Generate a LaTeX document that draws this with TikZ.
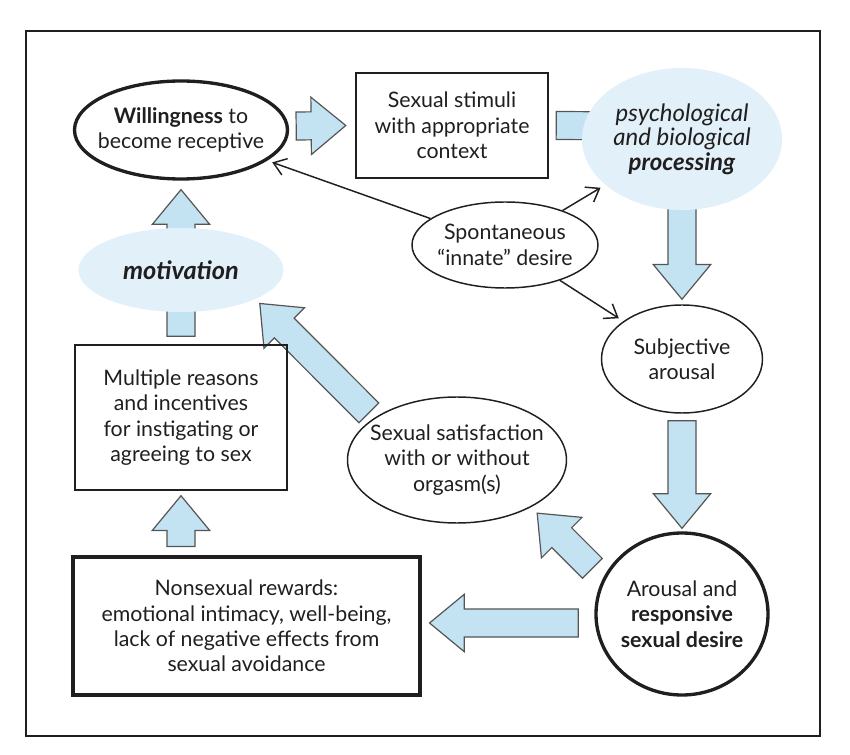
\documentclass[tikz,border=0pt]{standalone}
\usepackage{fontspec}
\setmainfont{Lato}
\usetikzlibrary{shapes.geometric,arrows.meta,calc,backgrounds}

\definecolor{arrowblue}{RGB}{196,227,242}
\definecolor{paleblue}{RGB}{226,240,249}
\definecolor{arrowline}{RGB}{85,85,85}
\definecolor{ink}{RGB}{32,30,30}

\tikzset{every picture/.style={line width=0.75pt}}

% block arrow, tail #1 to tip #2 (both named coordinates)
\newcommand{\fatarrow}[2]{%
  \coordinate (fhb) at ($(#2)!26pt!(#1)$);
  \draw[fatarrow] ($(#1)!10.5pt!90:(#2)$) -- ($(fhb)!10.5pt!90:(#2)$) -- ($(fhb)!21.5pt!90:(#2)$) -- (#2) -- ($(fhb)!21.5pt!-90:(#2)$) -- ($(fhb)!10.5pt!-90:(#2)$) -- ($(#1)!10.5pt!-90:(#2)$) -- cycle ;
}

\begin{document}
\begin{tikzpicture}[x=0.75pt,y=0.75pt,yscale=-1,xscale=1,
  every node/.style={text=ink, font={\fontsize{16}{19}\selectfont}},
  oval/.style={ellipse, draw=ink, line width=1.1pt, inner xsep=-15pt, inner ysep=0pt, align=center},
  boldoval/.style={oval, line width=2.5pt},
  paleoval/.style={ellipse, fill=paleblue, inner xsep=-15pt, inner ysep=0pt, align=center},
  card/.style={rectangle, draw=ink, line width=1.1pt, inner sep=0pt, align=center},
  fatarrow/.style={fill=arrowblue, draw=arrowline, line width=0.9pt, line join=miter},
  pointer/.style={draw=ink, line width=1.1pt, shorten >=4pt, -{Straight Barb[length=9pt,width=13pt]}}]
\useasboundingbox (0,0) rectangle (850,755);

%Shape: Ellipse [will]
\node[boldoval, minimum width=159.75pt, minimum height=73.5pt] (will) at (181,130) {\textbf{Willingness} to\\become receptive};
%Shape: Rectangle [stim]
\node[card, line width=1.8pt, minimum width=144pt, minimum height=78.75pt] (stim) at (452,125.5) {Sexual stimuli\\with appropriate\\context};
%Shape: Ellipse [psych]
\node[paleoval, minimum width=150pt, minimum height=106.5pt, font={\fontsize{18}{18.5}\selectfont}] (psych) at (682,139) {\textit{psychological}\\\textit{and biological}\\\textbf{\textit{processing}}};
%Shape: Ellipse [spont]
\node[oval, minimum width=139.5pt, minimum height=64.5pt] (spont) at (505,245) {Spontaneous\\“innate” desire};
%Shape: Ellipse [subj]
\node[oval, minimum width=120.75pt, minimum height=81pt] (subj) at (682,359) {Subjective\\arousal};
%Shape: Ellipse [arous]
\node[boldoval, minimum width=129pt, minimum height=121.5pt] (arous) at (682,614) {Arousal and\\\textbf{responsive}\\\textbf{sexual desire}};
%Shape: Ellipse [sat]
\node[oval, minimum width=164.25pt, minimum height=94.5pt] (sat) at (457,460) {Sexual satisfaction\\with or without\\orgasm(s)};
%Shape: Ellipse [mot]
\node[paleoval, minimum width=153.75pt, minimum height=63pt, font={\fontsize{19}{20}\selectfont}] (mot) at (181,270) {\textbf{\textit{motivation}}};
%Shape: Rectangle [mult]
\node[card, minimum width=159pt, minimum height=108.75pt] (mult) at (181,417.5) {Multiple reasons\\and incentives\\for instigating or\\agreeing to sex};
%Shape: Rectangle [nons]
\node[card, line width=2.3pt, minimum width=260.25pt, minimum height=103.5pt] (nons) at (246.5,626) {Nonsexual rewards:\\emotional intimacy, well-being,\\lack of negative effects from\\sexual avoidance};

% arrow ends
\coordinate (wsA) at ($(will.east)+(7,-4)$);
\coordinate (wsB) at ($(stim.west)+(-9,0)$);
\coordinate (spA) at ($(stim.east)+(7,0)$);
\coordinate (spB) at ($(psych.west)+(63,-13)$);
\coordinate (psA) at (psych.center);
\coordinate (psB) at ($(subj.north)+(0,-5)$);
\coordinate (saA) at ($(subj.south)+(0,7)$);
\coordinate (saB) at ($(arous.north)+(0,-3)$);
\coordinate (asA) at ($(arous.155)+(-11,-9)$);
\coordinate (asB) at ($(sat.-35)+(10,4)$);
\coordinate (smA) at ($(sat.152)+(-7,-4)$);
\coordinate (smB) at ($(mot.-23)+(7,3)$);
\coordinate (anA) at ($(arous.west)+(-16,9)$);
\coordinate (anB) at ($(nons.east)+(8,-3)$);
\coordinate (nmA) at ($(mult.south |- nons.north)+(0,-9)$);
\coordinate (nmB) at ($(mult.south)+(0,5)$);
\coordinate (mmA) at ($(mult.north)+(0,-8)$);
\coordinate (mmB) at (mot.center);
\coordinate (mwA) at (mot.center);
\coordinate (mwB) at ($(will.south)+(0,9)$);

%Block Arrows
\begin{scope}[on background layer]
\fatarrow{wsA}{wsB}
\fatarrow{spA}{spB}
\fatarrow{psA}{psB}
\fatarrow{saA}{saB}
\fatarrow{asA}{asB}
\fatarrow{smA}{smB}
\fatarrow{anA}{anB}
\fatarrow{nmA}{nmB}
\fatarrow{mmA}{mmB}
\fatarrow{mwA}{mwB}
\end{scope}

%Straight Lines
\draw[pointer] (spont) -- (will);
\draw[pointer] (spont) -- (psych);
\draw[pointer] (spont) -- (subj);

%Shape: Rectangle [frame]
\draw[draw=ink, line width=1.2pt] (26,31) rectangle (820,736);

\end{tikzpicture}
\end{document}
